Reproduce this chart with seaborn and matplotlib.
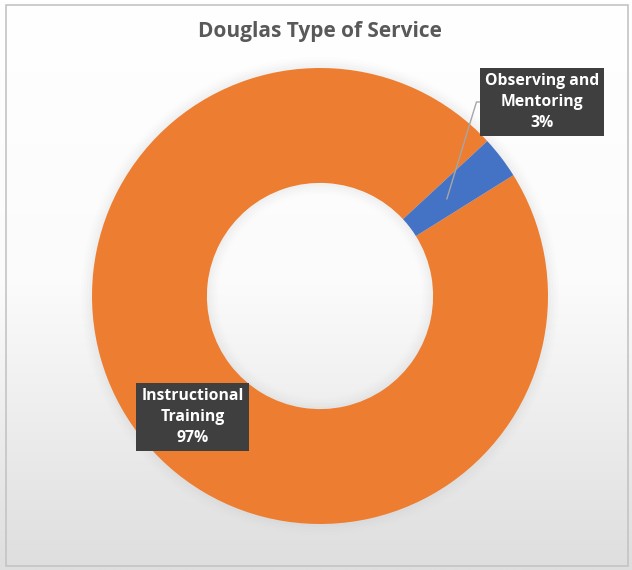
import numpy as np
import matplotlib
matplotlib.use("Agg")
import matplotlib.pyplot as plt
import seaborn as sns
from matplotlib.patches import Rectangle

# ---- data ----
categories = ["Instructional Training", "Observing and Mentoring"]
values = [97, 3]
label_texts = ["Instructional\nTraining\n97%", "Observing and\nMentoring\n3%"]
title = "Douglas Type of Service"
colors = ["#ED7D31", "#4472C4"]

sns.set_theme(style="white")
plt.rcParams["font.family"] = ["Open Sans", "DejaVu Sans"]

W, H = 632, 570
fig = plt.figure(figsize=(W / 100, H / 100), dpi=100)

# background gradient (white at top to light gray at bottom)
bg = fig.add_axes([0, 0, 1, 1], zorder=-10)
grad = np.linspace(1.0, 0.0, 256).reshape(-1, 1)
cmap = matplotlib.colors.LinearSegmentedColormap.from_list("bg", ["#dedede", "#fbfbfb", "#ffffff"])
bg.imshow(grad, aspect="auto", cmap=cmap, extent=[0, 1, 0, 1], origin="upper")
bg.set_xlim(0, 1); bg.set_ylim(0, 1)
bg.axis("off")
bg.add_patch(Rectangle((6 / W, 4 / H), 622 / W, 561 / H, fill=False,
                       ec="#c4c4c4", lw=1.2, transform=bg.transAxes))

# donut axes
cx, cy, R = 320, 296, 228
pad = 1.06
ax = fig.add_axes([(cx - R * pad) / W, (H - cy - R * pad) / H, 2 * R * pad / W, 2 * R * pad / H])
ax.set_facecolor("none")

# soft shadow
for k, a in enumerate([0.05, 0.04, 0.03, 0.02]):
    ax.pie([1], radius=1.0 + 0.012 * (k + 1), colors=["#b0b0b0"],
           wedgeprops=dict(width=0.504 + 0.024 * (k + 1), alpha=a, edgecolor="none"),
           startangle=90)

start = 90 - 58
wedges, _ = ax.pie(values, colors=colors, startangle=start, counterclock=False,
                   radius=1.0, wedgeprops=dict(width=0.504, edgecolor="none"))
ax.set_xlim(-pad, pad)
ax.set_ylim(-pad, pad)
ax.axis("off")

fig.text(cx / W, 1 - 32 / H, title, ha="center", va="center",
         fontsize=15, fontweight="bold", color="#595959")

box = dict(boxstyle="square,pad=0.33", fc="#3f3f3f", ec="none")
lab_pos = [(192.5, 417), (542, 102)]
fs = 11.3
ls = 1.44

# label 0: inside orange
fig.text(lab_pos[0][0] / W, 1 - lab_pos[0][1] / H, label_texts[0], ha="center", va="center",
         fontsize=fs, fontweight="bold", color="white", bbox=box, linespacing=ls)

# label 1 with leader line to middle of blue wedge
w = wedges[1]
mid = np.deg2rad((w.theta1 + w.theta2) / 2)
rr = 0.70
ax.annotate(label_texts[1], xy=(rr * np.cos(mid), rr * np.sin(mid)), xycoords="data",
            xytext=(lab_pos[1][0] / W, 1 - lab_pos[1][1] / H), textcoords="figure fraction",
            ha="center", va="center", fontsize=fs, fontweight="bold", color="white",
            bbox=box, linespacing=ls,
            arrowprops=dict(arrowstyle="-", color="#a6a6a6", lw=1.0, relpos=(0, 0.5),
                            shrinkA=0, shrinkB=0,
                            connectionstyle="angle,angleA=180,angleB=73,rad=0"))

fig.savefig("out.png", dpi=100)
